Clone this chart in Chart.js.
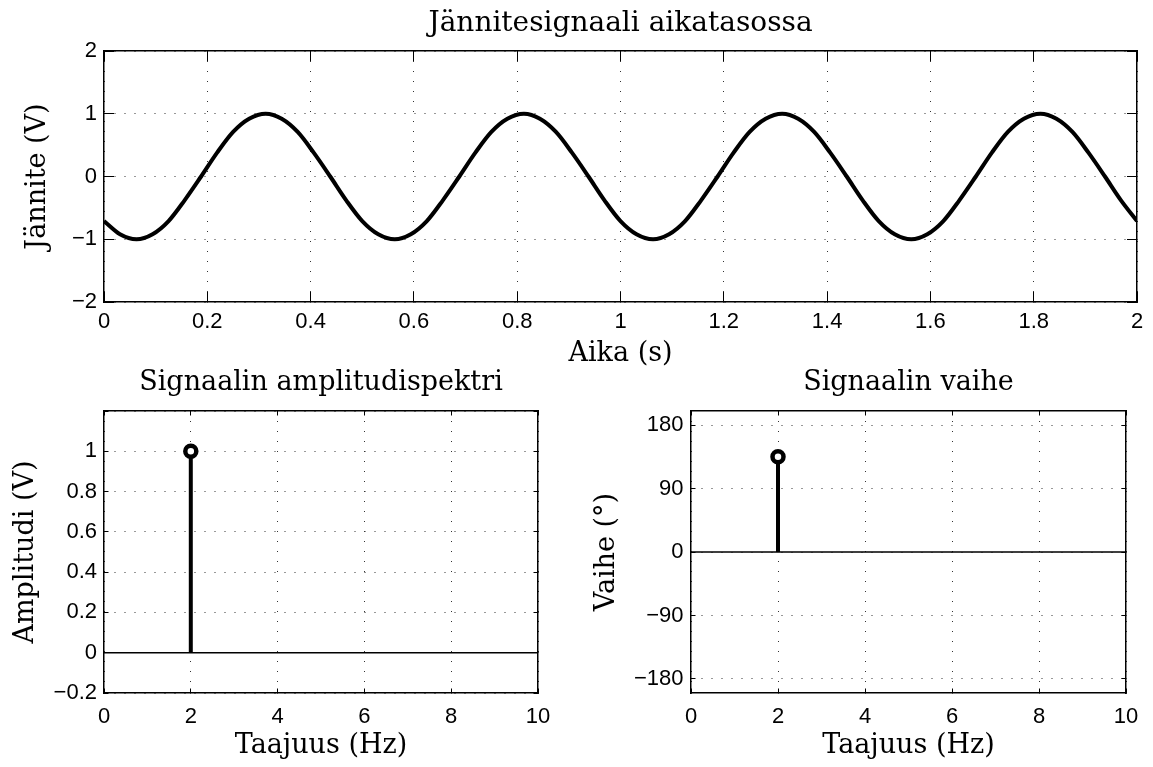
<!DOCTYPE html>
<html>
<head>
<meta charset="utf-8">
<script src="https://cdn.jsdelivr.net/npm/chart.js@4.4.0/dist/chart.umd.min.js"></script>
<style>
html, body { margin: 0; padding: 0; background: #fff; }
#page { position: relative; width: 1153px; height: 767px; overflow: hidden; }
canvas { position: absolute; }
</style>
</head>
<body>
<div id="page">
	<canvas id="cTime" width="1153" height="370" style="left:0;top:0"></canvas>
	<canvas id="cAmp" width="576" height="405" style="left:0;top:362px"></canvas>
	<canvas id="cPhase" width="577" height="405" style="left:576px;top:362px"></canvas>
</div>
<script>
// Time signal samples (2 Hz, 1 V, 135 deg)
var timeS = [0, 0.031, 0.063, 0.094, 0.125, 0.156, 0.188, 0.219, 0.25, 0.281, 0.313, 0.344, 0.375, 0.406, 0.438, 0.469,
	0.5, 0.531, 0.563, 0.594, 0.625, 0.656, 0.688, 0.719, 0.75, 0.781, 0.813, 0.844, 0.875, 0.906, 0.938, 0.969,
	1, 1.031, 1.063, 1.094, 1.125, 1.156, 1.188, 1.219, 1.25, 1.281, 1.313, 1.344, 1.375, 1.406, 1.438, 1.469,
	1.5, 1.531, 1.563, 1.594, 1.625, 1.656, 1.688, 1.719, 1.75, 1.781, 1.813, 1.844, 1.875, 1.906, 1.938, 1.969, 2];
var voltageV = [-0.71, -0.92, -1, -0.92, -0.71, -0.38, 0, 0.38, 0.71, 0.92, 1, 0.92, 0.71, 0.38, 0, -0.38,
	-0.71, -0.92, -1, -0.92, -0.71, -0.38, 0, 0.38, 0.71, 0.92, 1, 0.92, 0.71, 0.38, 0, -0.38,
	-0.71, -0.92, -1, -0.92, -0.71, -0.38, 0, 0.38, 0.71, 0.92, 1, 0.92, 0.71, 0.38, 0, -0.38,
	-0.71, -0.92, -1, -0.92, -0.71, -0.38, 0, 0.38, 0.71, 0.92, 1, 0.92, 0.71, 0.38, 0, -0.38, -0.71];

// Spectrum
var freqHz = [2];
var amplitudeV = [1];
var phaseDeg = [135];

// Tick values
var timeTicks = [0, 0.2, 0.4, 0.6, 0.8, 1, 1.2, 1.4, 1.6, 1.8, 2];
var voltTicks = [-2, -1, 0, 1, 2];
var freqTicks = [0, 2, 4, 6, 8, 10];
var ampTicks = [-0.2, 0, 0.2, 0.4, 0.6, 0.8, 1, 1.2];
var phaseTicks = [-180, -90, 0, 90, 180];

var SERIF = "'DejaVu Serif', serif";
var SANS = "'Liberation Sans', Arial, sans-serif";

function fmt(v) {
	return String(Math.round(v * 100) / 100).replace('-', '\u2212');
}

// Build one axis, MATLAB style: ticks inside, dotted grid
function makeAxis(o) {
	return {
		type: 'linear',
		position: o.position,
		min: o.min,
		max: o.max,
		afterBuildTicks: function(s) { s.ticks = o.ticks.map(function(v) { return { value: v }; }); },
		afterFit: function(s) {
			if(o.width !== undefined) s.width = o.width;
			if(o.height !== undefined) {
				s.height = o.height;
				// no extra room for overhanging end labels
				s.paddingLeft = 0;
				s.paddingRight = 0;
			}
		},
		grid: {
			display: true,
			drawOnChartArea: !!o.grid,
			drawTicks: true,
			tickLength: -o.tickLen,
			color: '#333',
			lineWidth: 1,
			tickColor: '#000',
			tickWidth: 1
		},
		border: { display: true, color: '#000', width: 1.5, dash: [1, 9] },
		ticks: {
			display: !!o.labels,
			autoSkip: false,
			maxRotation: 0,
			padding: o.labelPad || 0,
			color: '#000',
			font: { family: SANS, size: 22 },
			callback: o.callback || fmt
		},
		title: o.title ? {
			display: true,
			text: o.title,
			color: '#000',
			font: { family: SERIF, size: o.titleSize || 27 },
			padding: o.titlePad
		} : { display: false }
	};
}

function baseOptions(scales, rightPad) {
	return {
		responsive: false,
		animation: false,
		devicePixelRatio: 1,
		layout: { padding: { left: 0, right: rightPad, top: 0, bottom: 0 } },
		plugins: { legend: { display: false }, tooltip: { enabled: false } },
		scales: scales
	};
}

// Stem plot datasets: baseline, stems and circle markers
function stemDatasets(xs, ys, xmin, xmax) {
	var sets = [{
		data: [{ x: xmin, y: 0 }, { x: xmax, y: 0 }],
		borderColor: '#000', borderWidth: 1.5, pointRadius: 0, order: 3
	}];
	xs.forEach(function(x, i) {
		sets.push({
			data: [{ x: x, y: 0 }, { x: x, y: ys[i] }],
			borderColor: '#000', borderWidth: 4, pointRadius: 0, order: 2
		});
	});
	sets.push({
		data: xs.map(function(x, i) { return { x: x, y: ys[i] }; }),
		showLine: false,
		pointRadius: 5.5,
		pointBorderWidth: 4.5,
		pointBackgroundColor: '#fff',
		pointBorderColor: '#000',
		order: 1
	});
	return sets;
}

// Top: time signal
new Chart(document.getElementById('cTime'), {
	type: 'line',
	data: {
		datasets: [{
			data: timeS.map(function(t, i) { return { x: t, y: voltageV[i] }; }),
			borderColor: '#000',
			borderWidth: 4,
			pointRadius: 0,
			cubicInterpolationMode: 'monotone'
		}]
	},
	options: baseOptions({
		x: makeAxis({ position: 'bottom', min: 0, max: 2, ticks: timeTicks, tickLen: 10, grid: true, labels: true,
			labelPad: 17, height: 68, title: 'Aika (s)', titlePad: { top: 0, bottom: 0 } }),
		x2: makeAxis({ position: 'top', min: 0, max: 2, ticks: timeTicks, tickLen: 10, height: 51,
			title: 'Jännitesignaali aikatasossa', titleSize: 28, titlePad: { top: 7, bottom: 0 } }),
		y: makeAxis({ position: 'left', min: -2, max: 2, ticks: voltTicks, tickLen: 10, grid: true, labels: true,
			labelPad: 17, width: 104, title: 'Jännite (V)', titlePad: { top: 22, bottom: 0 } }),
		y2: makeAxis({ position: 'right', min: -2, max: 2, ticks: voltTicks, tickLen: 10, width: 0 })
	}, 16)
});

// Bottom left: amplitude spectrum
new Chart(document.getElementById('cAmp'), {
	type: 'line',
	data: { datasets: stemDatasets(freqHz, amplitudeV, 0, 10) },
	options: baseOptions({
		x: makeAxis({ position: 'bottom', min: 0, max: 10, ticks: freqTicks, tickLen: 4.5, grid: true, labels: true,
			labelPad: 15, height: 74, title: 'Taajuus (Hz)', titlePad: { top: 0, bottom: 5 } }),
		x2: makeAxis({ position: 'top', min: 0, max: 10, ticks: freqTicks, tickLen: 4.5, height: 49,
			title: 'Signaalin amplitudispektri', titlePad: { top: 5, bottom: 0 } }),
		y: makeAxis({ position: 'left', min: -0.2, max: 1.2, ticks: ampTicks, tickLen: 4.5, grid: true, labels: true,
			labelPad: 11.5, width: 104, title: 'Amplitudi (V)', titlePad: { top: 10, bottom: 0 },
			callback: function(v) { return Math.abs(v - 1.2) < 1e-9 ? '' : fmt(v); } }),
		y2: makeAxis({ position: 'right', min: -0.2, max: 1.2, ticks: ampTicks, tickLen: 4.5, width: 0 })
	}, 38)
});

// Bottom right: phase
new Chart(document.getElementById('cPhase'), {
	type: 'line',
	data: { datasets: stemDatasets(freqHz, phaseDeg, 0, 10) },
	options: baseOptions({
		x: makeAxis({ position: 'bottom', min: 0, max: 10, ticks: freqTicks, tickLen: 4.5, grid: true, labels: true,
			labelPad: 15, height: 74, title: 'Taajuus (Hz)', titlePad: { top: 0, bottom: 5 } }),
		x2: makeAxis({ position: 'top', min: 0, max: 10, ticks: freqTicks, tickLen: 4.5, height: 49,
			title: 'Signaalin vaihe', titlePad: { top: 5, bottom: 0 } }),
		y: makeAxis({ position: 'left', min: -200, max: 200, ticks: phaseTicks, tickLen: 4.5, grid: true, labels: true,
			labelPad: 12, width: 115, title: 'Vaihe (°)', titlePad: { top: 15, bottom: 0 } }),
		y2: makeAxis({ position: 'right', min: -200, max: 200, ticks: phaseTicks, tickLen: 4.5, width: 0 })
	}, 27)
});
</script>
</body>
</html>
